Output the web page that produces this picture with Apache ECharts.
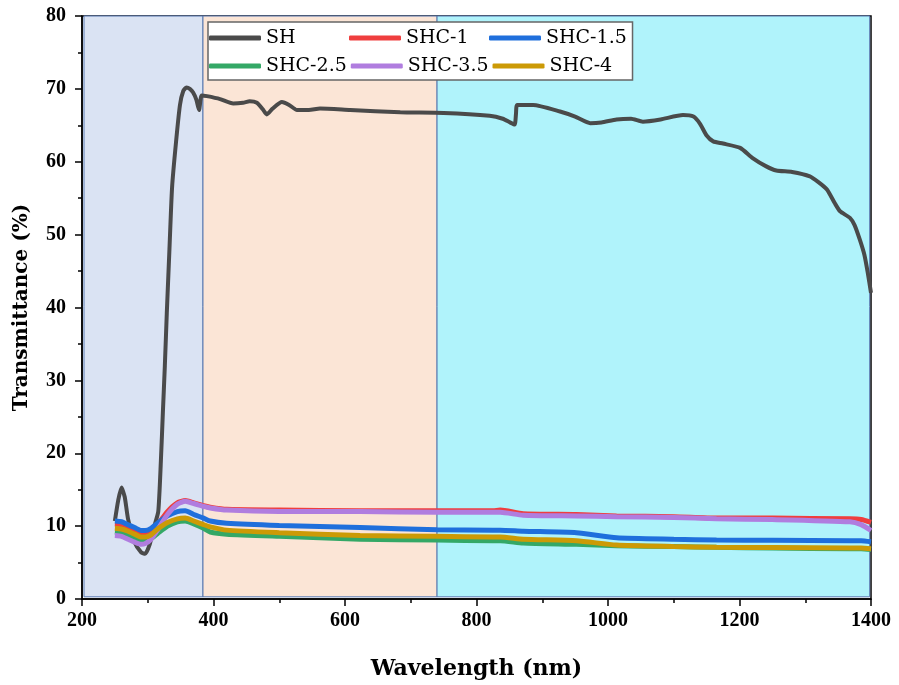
<!DOCTYPE html>
<html>
<head>
<meta charset="utf-8">
<script src="https://cdn.jsdelivr.net/npm/echarts/dist/echarts.min.js"></script>
<style>
  html, body { margin: 0; padding: 0; background: #fff; }
  #chart { width: 899px; height: 685px; }
</style>
</head>
<body>
<div id="chart"></div>
<script>
// SH sample (wavelength nm, transmittance %)
const shWave = [250, 255, 260, 265, 270, 280, 290, 296, 303, 310, 316, 320, 323, 326, 329, 333, 337, 343, 349, 354,
  359, 364, 369, 374, 378, 382, 390, 410, 430, 445, 455, 466, 475, 481, 490, 504, 515, 527, 545, 562,
  608, 684, 750, 820, 840, 851, 858, 860, 862, 886, 927, 950, 973, 990, 1013, 1035, 1053, 1080, 1114, 1130,
  1140, 1150, 1160, 1175, 1201, 1220, 1240, 1256, 1280, 1307, 1320, 1333, 1345, 1353, 1368, 1375, 1383, 1390, 1395, 1400]
const shValues = [10.7, 13.5, 15.3, 14.0, 11.0, 7.8, 6.4, 6.2, 7.5, 10.0, 12.0, 19.0, 25.6, 32.0, 39.3, 48.0, 56.5, 62.7, 67.8, 69.7,
  70.2, 70.0, 69.5, 68.5, 67.1, 69.1, 69.0, 68.6, 68.0, 68.1, 68.3, 68.1, 67.2, 66.5, 67.3, 68.2, 67.8, 67.1, 67.1, 67.3,
  67.1, 66.8, 66.7, 66.3, 65.9, 65.4, 65.1, 66.5, 67.8, 67.8, 66.9, 66.2, 65.3, 65.4, 65.8, 65.9, 65.5, 65.8, 66.4, 66.2,
  65.2, 63.6, 62.8, 62.5, 61.9, 60.5, 59.4, 58.8, 58.6, 58.0, 57.2, 56.2, 54.3, 53.2, 52.3, 51.3, 49.3, 47.2, 44.8, 42.0]

// SHC samples share one wavelength grid
const shcWave = [250, 260, 270, 280, 290, 296, 305, 315, 330, 345, 357, 370, 385, 395, 420, 500, 623, 740, 825, 836,
  871, 952, 1013, 1100, 1165, 1250, 1368, 1385, 1400]
const shc1 = [10.3, 10.2, 9.8, 9.3, 8.9, 8.9, 9.2, 10.2, 12.0, 13.2, 13.5, 13.2, 12.8, 12.6, 12.3, 12.2, 12.1, 12.1, 12.1, 12.2,
  11.7, 11.6, 11.4, 11.3, 11.1, 11.1, 11.0, 10.9, 10.5]
const shc15 = [10.7, 10.6, 10.2, 9.8, 9.4, 9.4, 9.7, 10.4, 11.4, 12.0, 12.1, 11.6, 11.1, 10.7, 10.4, 10.1, 9.8, 9.5, 9.45, 9.45,
  9.3, 9.1, 8.4, 8.2, 8.1, 8.05, 8.0, 8.0, 7.85]
const shc25 = [9.2, 9.1, 8.8, 8.4, 8.0, 8.0, 8.3, 9.0, 10.0, 10.6, 10.7, 10.3, 9.7, 9.2, 8.9, 8.6, 8.2, 8.1, 8.0, 8.0,
  7.7, 7.5, 7.3, 7.2, 7.1, 7.0, 6.9, 6.9, 6.8]
const shc35 = [8.7, 8.6, 8.2, 7.8, 7.5, 7.6, 8.2, 9.5, 11.6, 13.0, 13.4, 13.1, 12.7, 12.5, 12.2, 12.0, 12.0, 11.9, 11.9, 11.9,
  11.5, 11.4, 11.3, 11.2, 11.0, 10.9, 10.6, 10.2, 9.4]
const shc4 = [9.7, 9.6, 9.3, 8.9, 8.5, 8.5, 8.8, 9.6, 10.5, 11.0, 11.1, 10.7, 10.2, 9.9, 9.45, 9.1, 8.7, 8.6, 8.5, 8.5,
  8.2, 8.0, 7.4, 7.2, 7.1, 7.05, 7.0, 7.0, 6.9]

// UV / visible / NIR bands
const bandEdges = [[203, 384], [384, 740], [740, 1398]]
const bandColors = ['#dae3f3', '#fbe5d6', '#b0f3fb']

const xTicks = [200, 400, 600, 800, 1000, 1200, 1400]
const yTicks = [0, 10, 20, 30, 40, 50, 60, 70, 80]

const pairs = (xs, ys) => xs.map((x, i) => [x, ys[i]])

const tickFont = { fontFamily: 'Liberation Serif', fontWeight: 'bold', fontSize: 20, color: '#000' }
const nameFont = { fontFamily: 'DejaVu Serif', fontWeight: 'bold', color: '#000' }

const lineSeries = (name, color, data, width) => ({
  name,
  type: 'line',
  data,
  symbol: 'none',
  smooth: 0.2,
  z: 3,
  itemStyle: { color },
  lineStyle: { color, width }
})

const chart = echarts.init(document.getElementById('chart'))
chart.setOption({
  animation: false,
  grid: {
    left: 82, right: 28, top: 16, bottom: 85,
    show: true, borderColor: '#000', borderWidth: 1.5, backgroundColor: 'transparent'
  },
  legend: {
    data: ['SH', 'SHC-1', 'SHC-1.5', 'SHC-2.5', 'SHC-3.5', 'SHC-4'],
    left: 208, top: 22, width: 430,
    orient: 'horizontal',
    icon: 'roundRect',
    itemWidth: 52, itemHeight: 5, itemGap: 4,
    padding: [4, 4, 2, 1],
    backgroundColor: '#fff',
    borderColor: '#666', borderWidth: 1.5, borderRadius: 0,
    textStyle: {
      fontFamily: 'DejaVu Serif', fontSize: 19, color: '#000',
      width: 79, lineHeight: 24, overflow: 'none'
    }
  },
  xAxis: {
    type: 'value',
    min: xTicks[0], max: xTicks[xTicks.length - 1], interval: 200,
    name: 'Wavelength (nm)', nameLocation: 'middle', nameGap: 59,
    nameTextStyle: { ...nameFont, fontSize: 22 },
    axisLine: { lineStyle: { color: '#000', width: 1.5 } },
    axisTick: { length: 7, lineStyle: { color: '#000', width: 1.5 } },
    minorTick: { show: true, splitNumber: 2, length: 4, lineStyle: { color: '#000', width: 1.5 } },
    axisLabel: { ...tickFont, margin: 12, formatter: v => String(v) },
    splitLine: { show: false }
  },
  yAxis: {
    type: 'value',
    min: yTicks[0], max: yTicks[yTicks.length - 1], interval: 10,
    name: 'Transmittance (%)', nameLocation: 'middle', nameGap: 50,
    nameTextStyle: { ...nameFont, fontSize: 20 },
    axisLine: { show: true, lineStyle: { color: '#000', width: 1.5 } },
    axisTick: { show: true, length: 7, lineStyle: { color: '#000', width: 1.5 } },
    minorTick: { show: true, splitNumber: 2, length: 4, lineStyle: { color: '#000', width: 1.5 } },
    axisLabel: { ...tickFont, margin: 16, formatter: v => String(v) },
    splitLine: { show: false }
  },
  series: [
    {
      type: 'line',
      data: [],
      z: 1,
      silent: true,
      markArea: {
        silent: true,
        data: bandEdges.map((b, i) => [
          { xAxis: b[0], yAxis: 0.3, itemStyle: { color: bandColors[i], borderColor: '#5677b0', borderWidth: 1 } },
          { xAxis: b[1], yAxis: 80 }
        ])
      }
    },
    lineSeries('SH', '#4a4a4a', pairs(shWave, shValues), 4),
    lineSeries('SHC-1', '#ef3e3e', pairs(shcWave, shc1), 5),
    lineSeries('SHC-1.5', '#1f6fdc', pairs(shcWave, shc15), 5),
    lineSeries('SHC-2.5', '#34a866', pairs(shcWave, shc25), 5),
    lineSeries('SHC-3.5', '#b07ddf', pairs(shcWave, shc35), 5),
    lineSeries('SHC-4', '#cc9a06', pairs(shcWave, shc4), 5)
  ]
})
</script>
</body>
</html>
